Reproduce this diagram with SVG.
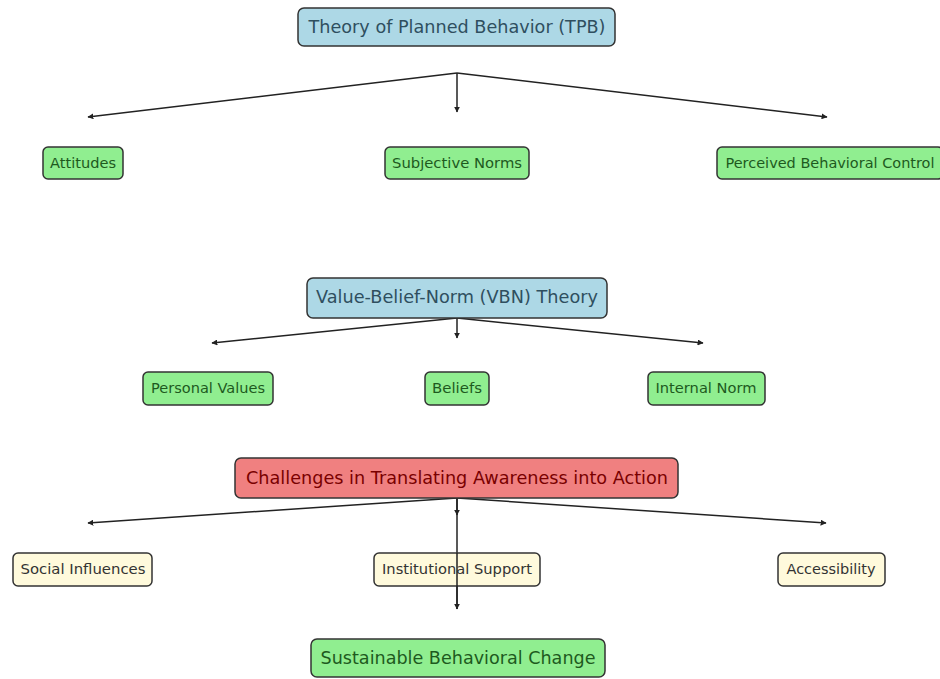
<svg xmlns="http://www.w3.org/2000/svg" width="940" height="679" viewBox="0 0 940 679">
<style>
text{font-family:"DejaVu Sans",sans-serif;text-anchor:middle;dominant-baseline:central}
.box{stroke:#333;stroke-width:1.5}
.blue{fill:#add8e6}
.green{fill:#90ee90}
.red{fill:#f08080}
.yellow{fill:#fffadc}
.big{font-size:17px}
.small{font-size:14px}
.tb{fill:#2f4f5f}
.tg{fill:#1e5a1e}
.tr{fill:#7a0000}
.ty{fill:#333}
.edge{stroke:#222;stroke-width:1.5;fill:none;marker-end:url(#ah)}
</style>
<defs>
<marker id="ah" viewBox="0 0 10 10" refX="9" refY="5" markerWidth="6" markerHeight="6" orient="auto" markerUnits="userSpaceOnUse">
<path d="M0,0 L10,5 L0,10 z" fill="#222"/>
</marker>
</defs>
<rect width="940" height="679" fill="#fff"/>
<g id="connectors">
<line class="edge" x1="457" y1="73" x2="88" y2="117"/>
<line class="edge" x1="457" y1="73" x2="457" y2="112"/>
<line class="edge" x1="457" y1="73" x2="827" y2="117"/>
<line class="edge" x1="457" y1="318" x2="212" y2="343"/>
<line class="edge" x1="457" y1="318" x2="457" y2="338"/>
<line class="edge" x1="457" y1="318" x2="703" y2="343"/>
<line class="edge" x1="457" y1="498" x2="88" y2="523"/>
<line class="edge" x1="457" y1="498" x2="457" y2="515"/>
<line class="edge" x1="457" y1="498" x2="826" y2="523"/>
<line class="edge" x1="457" y1="498" x2="457" y2="609"/>
</g>
<g id="tpb"><rect class="box blue" x="298" y="8" width="317" height="38" rx="6"/><text class="big tb" x="457" y="27" textLength="297" lengthAdjust="spacingAndGlyphs">Theory of Planned Behavior (TPB)</text></g>
<g id="attitudes"><rect class="box green" x="43" y="147" width="80" height="32" rx="5"/><text class="small tg" x="83" y="163" textLength="66" lengthAdjust="spacingAndGlyphs">Attitudes</text></g>
<g id="subjective-norms"><rect class="box green" x="385" y="147" width="144" height="32" rx="5"/><text class="small tg" x="457" y="163" textLength="130" lengthAdjust="spacingAndGlyphs">Subjective Norms</text></g>
<g id="pbc"><rect class="box green" x="717" y="147" width="226" height="32" rx="5"/><text class="small tg" x="830" y="163" textLength="209" lengthAdjust="spacingAndGlyphs">Perceived Behavioral Control</text></g>
<g id="vbn"><rect class="box blue" x="307" y="278" width="300" height="40" rx="6"/><text class="big tb" x="457" y="297" textLength="282" lengthAdjust="spacingAndGlyphs">Value-Belief-Norm (VBN) Theory</text></g>
<g id="personal-values"><rect class="box green" x="143" y="372" width="130" height="33" rx="5"/><text class="small tg" x="208" y="388" textLength="114" lengthAdjust="spacingAndGlyphs">Personal Values</text></g>
<g id="beliefs"><rect class="box green" x="425" y="372" width="64" height="33" rx="5"/><text class="small tg" x="457" y="388" textLength="50" lengthAdjust="spacingAndGlyphs">Beliefs</text></g>
<g id="internal-norm"><rect class="box green" x="648" y="372" width="117" height="33" rx="5"/><text class="small tg" x="706" y="388" textLength="101" lengthAdjust="spacingAndGlyphs">Internal Norm</text></g>
<g id="challenges"><rect class="box red" x="235" y="458" width="443" height="40" rx="6"/><text class="big tr" x="457" y="478" textLength="422" lengthAdjust="spacingAndGlyphs">Challenges in Translating Awareness into Action</text></g>
<g id="social-influences"><rect class="box yellow" x="13" y="553" width="139" height="33" rx="5"/><text class="small ty" x="83" y="569" textLength="125" lengthAdjust="spacingAndGlyphs">Social Influences</text></g>
<g id="institutional-support"><rect class="box yellow" x="374" y="553" width="166" height="33" rx="5"/><text class="small ty" x="457" y="569" textLength="150" lengthAdjust="spacingAndGlyphs">Institutional Support</text></g>
<g id="accessibility"><rect class="box yellow" x="778" y="553" width="107" height="33" rx="5"/><text class="small ty" x="831" y="569" textLength="89" lengthAdjust="spacingAndGlyphs">Accessibility</text></g>
<line class="edge" x1="457" y1="553" x2="457" y2="609" style="marker-end:none"/>
<g id="sustainable"><rect class="box green" x="311" y="639" width="294" height="38" rx="6"/><text class="big tg" x="458" y="658" textLength="275" lengthAdjust="spacingAndGlyphs">Sustainable Behavioral Change</text></g>
</svg>
